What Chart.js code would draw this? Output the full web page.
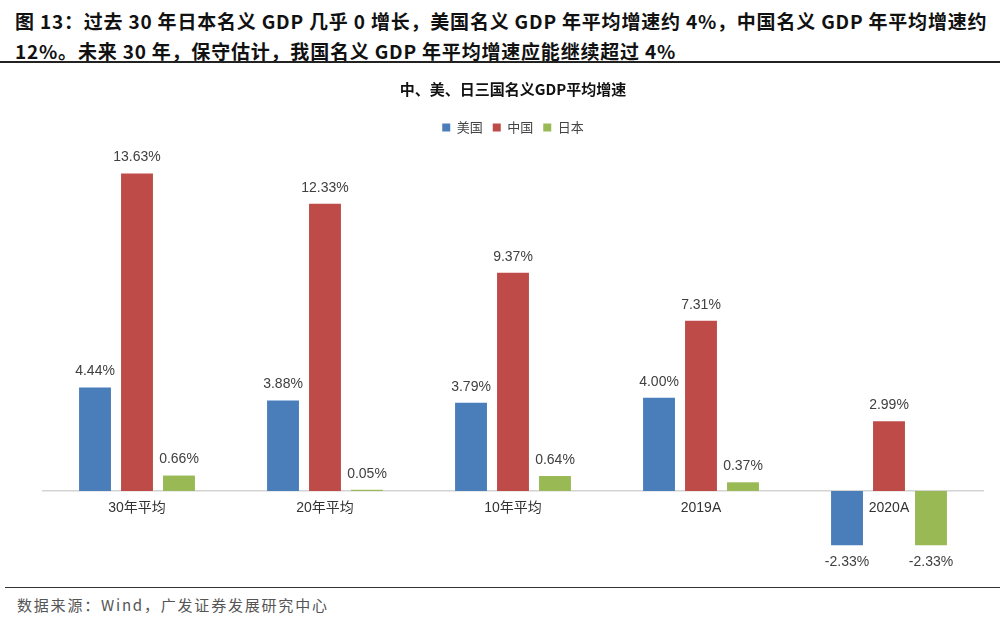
<!DOCTYPE html>
<html>
<head>
<meta charset="utf-8">
<script src="https://cdn.jsdelivr.net/npm/chart.js@4/dist/chart.umd.min.js"></script>
<style>
  html, body { margin: 0; padding: 0; background: #fff; }
  body { width: 1000px; height: 623px; position: relative; overflow: hidden; font-family: "Liberation Sans", "Noto Sans CJK SC", sans-serif; }
  .head { position: absolute; left: 15px; top: 6px; width: 985px; font-family: "Noto Sans CJK SC", sans-serif; font-weight: bold; font-size: 19px; line-height: 30px; color: #111; letter-spacing: 0.8px; white-space: nowrap; }
  .rule-top { position: absolute; left: 0; top: 61px; width: 1000px; height: 2px; background: #222; }
  .rule-bot { position: absolute; left: 5px; top: 587px; width: 995px; height: 1px; background: #333; }
  .foot { position: absolute; left: 17px; top: 594px; font-family: "Noto Sans CJK SC", sans-serif; font-size: 15px; letter-spacing: 1.8px; color: #555; }
  #wrap { position: absolute; left: 0; top: 70px; width: 1000px; height: 515px; }
</style>
</head>
<body>
<div class="head">图 13：过去 30 年日本名义 GDP 几乎 0 增长，美国名义 GDP 年平均增速约 4%，中国名义 GDP 年平均增速约<br>12%。未来 30 年，保守估计，我国名义 GDP 年平均增速应能继续超过 4%</div>
<div class="rule-top"></div>
<div id="wrap"><canvas id="gdpChart"></canvas></div>
<div class="rule-bot"></div>
<div class="foot">数据来源：Wind，广发证券发展研究中心</div>
<script>
  const categories = ["30年平均", "20年平均", "10年平均", "2019A", "2020A"];
  const usa = [4.44, 3.88, 3.79, 4.00, -2.33];
  const china = [13.63, 12.33, 9.37, 7.31, 2.99];
  const japan = [0.66, 0.05, 0.64, 0.37, -2.33];

  const valueLabels = {
    id: "valueLabels",
    afterDatasetsDraw(chart) {
      const ctx = chart.ctx;
      ctx.save();
      ctx.font = "14px 'Liberation Sans', Arial, sans-serif";
      ctx.fillStyle = "#404040";
      ctx.textAlign = "center";
      chart.data.datasets.forEach((ds, di) => {
        const meta = chart.getDatasetMeta(di);
        if (meta.hidden) return;
        meta.data.forEach((bar, i) => {
          const v = ds.data[i];
          const txt = v.toFixed(2) + "%";
          if (v >= 0) {
            ctx.textBaseline = "bottom";
            ctx.fillText(txt, bar.x, bar.y - 9);
          } else {
            ctx.textBaseline = "top";
            ctx.fillText(txt, bar.x, bar.y + 10);
          }
        });
      });
      ctx.restore();
    }
  };

  function barSet(label, data, color) {
    return {
      label,
      data,
      backgroundColor: color,
      borderWidth: 0,
      barPercentage: 0.76,
      categoryPercentage: 0.67
    };
  }

  new Chart(document.getElementById("gdpChart"), {
    type: "bar",
    data: {
      labels: categories,
      datasets: [
        barSet("美国", usa, "#4a7ebb"),
        barSet("中国", china, "#be4b48"),
        barSet("日本", japan, "#98b954")
      ]
    },
    options: {
      responsive: true,
      maintainAspectRatio: false,
      animation: false,
      layout: { padding: { left: 43, right: 17, top: 0, bottom: 0 } },
      plugins: {
        title: {
          display: true,
          text: "中、美、日三国名义GDP平均增速",
          color: "#111",
          font: { family: "'Noto Sans CJK SC', sans-serif", size: 15, weight: "bold" },
          padding: { top: 10, bottom: 13 }
        },
        legend: {
          position: "top",
          labels: {
            boxWidth: 8,
            boxHeight: 8,
            color: "#444",
            padding: 10,
            font: { family: "'Noto Sans CJK SC', sans-serif", size: 13 }
          }
        },
        tooltip: { enabled: false }
      },
      scales: {
        x: {
          position: { y: 0 },
          grid: { display: false, drawTicks: false },
          border: { display: true, color: "#d4d4d4", width: 1.5 },
          ticks: {
            color: "#333",
            padding: 9,
            font: { family: "'Liberation Sans', 'Noto Sans CJK SC', sans-serif", size: 14 }
          }
        },
        y: {
          display: false,
          min: -4.04,
          max: 14.9
        }
      }
    },
    plugins: [valueLabels]
  });
</script>
</body>
</html>
